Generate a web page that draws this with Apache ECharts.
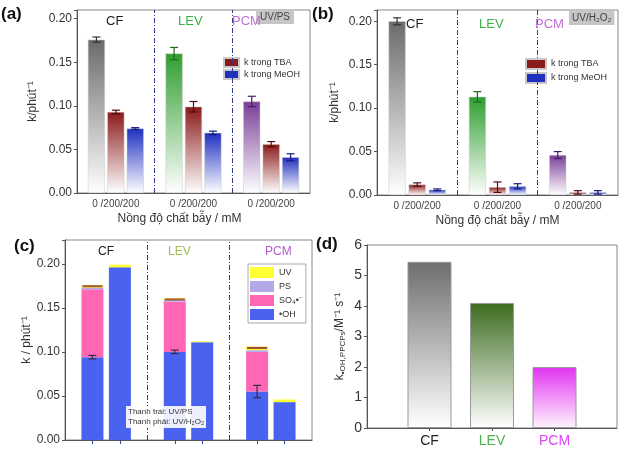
<!DOCTYPE html>
<html><head><meta charset="utf-8">
<script src="https://cdn.jsdelivr.net/npm/echarts@6/dist/echarts.min.js"></script>
<style>html,body{margin:0;padding:0;background:#fff}#c{width:624px;height:450px}</style>
</head><body><div id="c"></div>
<script>
// ---------- data ----------
const compounds = ['CF', 'LEV', 'PCM'];
const trapTickLabel = '0 /200/200';
// (a) UV/PS : k (phút^-1) without trap / with TBA / with MeOH
const kNoTrapA = [0.176, 0.160, 0.105];
const kTBA_A   = [0.093, 0.099, 0.056];
const kMeOH_A  = [0.074, 0.069, 0.041];
const errNoTrapA = [0.003, 0.007, 0.006];
const errTBA_A   = [0.002, 0.006, 0.003];
const errMeOH_A  = [0.001, 0.002, 0.004];
// (b) UV/H2O2
const kNoTrapB = [0.200, 0.113, 0.046];
const kTBA_B   = [0.012, 0.009, 0.003];
const kMeOH_B  = [0.006, 0.010, 0.003];
const errNoTrapB = [0.004, 0.006, 0.004];
const errTBA_B   = [0.002, 0.006, 0.002];
const errMeOH_B  = [0.001, 0.003, 0.002];
// (c) contributions (left bar UV/PS, right bar UV/H2O2)
const ohPS   = [0.094, 0.100, 0.055];
const so4PS  = [0.077, 0.057, 0.045];
const psPS   = [0.002, 0.002, 0.002];
const uvPS   = [0.003, 0.002, 0.004];
const errOhPS = [0.002, 0.002, 0.007];
const ohH2O2 = [0.196, 0.111, 0.043];
const uvH2O2 = [0.003, 0.001, 0.003];
// (d) k_OH,PPCPs (M^-1 s^-1, x10^9)
const kOH_PPCP = [5.45, 4.10, 2.00];

// ---------- styles ----------
const FONT = 'Liberation Sans, Arial, sans-serif';
const compTopA = ['#6b6b6b', '#2f9e2f', '#7a3e98'];
const compTopD = ['#6e6e6e', '#3d6b1f', '#e033f0'];
const compErr = ['#333333', '#1a6a1a', '#4a1a6a'];
const tbaTop = '#8b1a1a', meohTop = '#1f2fc0';
const labelCol = ['#222222', '#3cb043', '#c070d8'];
function grad(top, bottom) {
  return new echarts.graphic.LinearGradient(0, 0, 0, 1, [
    {offset: 0, color: top}, {offset: 1, color: bottom || '#ffffff'}]);
}

// ---------- category layouts ----------
const catsAB = [];
for (let g = 0; g < 3; g++) { catsAB.push('s' + g); ['0', 'TBA', 'MeOH'].forEach(t => catsAB.push(compounds[g] + '-' + t)); }
catsAB.push('s3');
const catsC = [];
for (let g = 0; g < 3; g++) { catsC.push('s' + g); catsC.push(compounds[g] + '-PS'); catsC.push(compounds[g] + '-H2O2'); }
catsC.push('s3');
const catsD = ['e0'].concat(compounds, ['e1']);

function slotAB(arr, j, colorFn) {
  const out = catsAB.map(() => '-');
  arr.forEach((v, g) => { out[1 + g * 4 + j] = {value: v, itemStyle: {color: colorFn(g)}}; });
  return out;
}
function errAB(vals, errs, j, colFn) {
  return vals.map((v, g) => ({value: [1 + g * 4 + j, v, errs[g]], itemStyle: {color: colFn(g)}}));
}
function slotC(arr, j, colorFn) {
  const out = catsC.map(() => '-');
  arr.forEach((v, g) => { out[1 + g * 3 + j] = colorFn ? {value: v, itemStyle: {color: colorFn(g)}} : v; });
  return out;
}

function errItem(params, api) {
  const x = api.value(0), v = api.value(1), e = api.value(2);
  const p1 = api.coord([x, v + e]), p2 = api.coord([x, Math.max(0, v - e)]);
  const c = api.visual('color');
  const w = params.seriesName === 'errTop' ? 10 : 4;
  const st = {stroke: c, lineWidth: 1.2};
  return {type: 'group', children: [
    {type: 'line', shape: {x1: p1[0], y1: p1[1], x2: p2[0], y2: p2[1]}, style: st},
    {type: 'line', shape: {x1: p1[0] - w, y1: p1[1], x2: p1[0] + w, y2: p1[1]}, style: st},
    {type: 'line', shape: {x1: p2[0] - w, y1: p2[1], x2: p2[0] + w, y2: p2[1]}, style: st}
  ]};
}

function yFmt(v) { const r = Math.round(v * 20); return Math.abs(v * 20 - r) < 1e-6 ? v.toFixed(2) : ''; }
const dividerLine = {
  silent: true, symbol: 'none', label: {show: false},
  lineStyle: {color: '#2e3a8c', type: [5, 2, 1, 2], width: 1},
};

function yAxisK(grid, max, name, gap) {
  return {
    gridIndex: grid, type: 'value', min: 0, max: max, interval: 0.05,
    axisLine: {show: true, lineStyle: {color: '#555'}},
    axisTick: {show: true, length: 3, lineStyle: {color: '#555'}},
    splitLine: {show: false},
    axisLabel: {formatter: yFmt, fontSize: 12, color: '#333', margin: 5, fontFamily: FONT},
    name: name, nameLocation: 'middle', nameGap: gap,
    nameTextStyle: {fontSize: 12, color: '#333', fontFamily: FONT}
  };
}
function xAxisAB(grid, namePad) {
  return {
    gridIndex: grid, type: 'category', data: catsAB, boundaryGap: false,
    axisLine: {lineStyle: {color: '#555'}}, axisTick: {show: false},
    axisLabel: {interval: 0, formatter: (v, i) => (i % 4 === 2 ? trapTickLabel : ''), fontSize: 10, color: '#444', margin: 6, fontFamily: FONT},
    name: 'Nồng độ chất bẫy / mM', nameLocation: 'middle', nameGap: 20,
    nameTextStyle: {fontSize: 12, color: '#333', padding: namePad, fontFamily: FONT}
  };
}

function panelAB(idx, kNo, kT, kM, eNo, eT, eM) {
  return [
    {type: 'bar', name: 'k', xAxisIndex: idx, yAxisIndex: idx, barWidth: 17, barGap: '-100%',
     itemStyle: {borderColor: '#c8c8c8', borderWidth: 0.5},
     data: slotAB(kNo, 0, g => grad(compTopA[g])),
     markLine: Object.assign({data: [{xAxis: 's1'}, {xAxis: 's2'}]}, dividerLine)},
    {type: 'bar', name: 'k trong TBA', xAxisIndex: idx, yAxisIndex: idx, barWidth: 17, barGap: '-100%',
     itemStyle: {borderColor: '#c8c8c8', borderWidth: 0.5},
     data: slotAB(kT, 1, () => grad(tbaTop))},
    {type: 'bar', name: 'k trong MeOH', xAxisIndex: idx, yAxisIndex: idx, barWidth: 17, barGap: '-100%',
     itemStyle: {borderColor: '#c8c8c8', borderWidth: 0.5},
     data: slotAB(kM, 2, () => grad(meohTop))},
    {type: 'custom', name: 'err', xAxisIndex: idx, yAxisIndex: idx, renderItem: errItem, encode: {x: 0, y: 1}, z: 5,
     data: errAB(kNo, eNo, 0, g => compErr[g]).concat(errAB(kT, eT, 1, () => '#5a0a0a'), errAB(kM, eM, 2, () => '#101a80'))}
  ];
}

const chart = echarts.init(document.getElementById('c'));
const titleBase = {textStyle: {fontFamily: FONT, fontWeight: 'normal'}};
function T(text, left, top, size, color, extra) {
  return Object.assign({text: text, left: left, top: top, padding: 0,
    textStyle: Object.assign({fontFamily: FONT, fontSize: size, color: color, fontWeight: 'normal'}, (extra && extra.ts) || {})},
    (extra && extra.box) || {});
}

chart.setOption({
  animation: false,
  textStyle: {fontFamily: FONT},
  title: [
    T('(a)', 1, 6, 17, '#111', {ts: {fontWeight: 'bold'}}),
    T('(b)', 312, 6, 17, '#111', {ts: {fontWeight: 'bold'}}),
    T('(c)', 14, 238, 17, '#111', {ts: {fontWeight: 'bold'}}),
    T('(d)', 316, 236, 17, '#111', {ts: {fontWeight: 'bold'}}),
    T('CF', 106, 15, 13, labelCol[0]), T('LEV', 178, 15, 13, labelCol[1]), T('PCM', 232, 15, 13, labelCol[2]),
    T('UV/PS', 256, 10, 10, '#444', {box: {backgroundColor: '#c6c6c6', padding: [2, 4]}}),
    T('CF', 406, 18, 13, labelCol[0]), T('LEV', 479, 18, 13, labelCol[1]), T('PCM', 535, 18, 13, labelCol[2]),
    T('UV/H₂O₂', 569, 11, 10, '#444', {box: {backgroundColor: '#c6c6c6', padding: [2, 3]}}),
    T('CF', 98, 246, 12, '#222'), T('LEV', 168, 246, 12, '#a0c050'), T('PCM', 265, 246, 12, '#b060c8'),
    T('Thanh trái: UV/PS\nThanh phải: UV/H₂O₂', 126, 406, 8, '#333',
      {ts: {lineHeight: 10}, box: {backgroundColor: 'rgba(255,255,255,0.9)', padding: [1, 2]}})
  ],
  legend: [
    {left: 218, top: 52, orient: 'vertical', icon: 'rect', itemWidth: 15, itemHeight: 9, itemGap: 1, selectedMode: false,
     textStyle: {fontSize: 9, color: '#333'},
     data: [{name: 'k trong TBA', itemStyle: {color: tbaTop}}, {name: 'k trong MeOH', itemStyle: {color: meohTop}}]},
    {left: 520, top: 53, orient: 'vertical', icon: 'rect', itemWidth: 20, itemHeight: 10, itemGap: 2, selectedMode: false,
     textStyle: {fontSize: 9, color: '#333'},
     data: [{name: 'k trong TBA', itemStyle: {color: tbaTop}}, {name: 'k trong MeOH', itemStyle: {color: meohTop}}]},
    {left: 248, top: 264, orient: 'vertical', icon: 'rect', itemWidth: 24, itemHeight: 11, itemGap: 3, selectedMode: false,
     padding: [3, 4, 3, 2], borderColor: '#aaa', borderWidth: 1,
     textStyle: {fontSize: 9, color: '#333'},
     data: ['UV', 'PS', 'SO₄•⁻', '•OH']}
  ],
  grid: [
    {left: 77, top: 10, right: 314, bottom: 257, show: true, borderColor: '#888', borderWidth: 1},
    {left: 377, top: 10, right: 6, bottom: 255, show: true, borderColor: '#888', borderWidth: 1},
    {left: 65, top: 240, right: 312, bottom: 10, show: true, borderColor: '#888', borderWidth: 1},
    {left: 367, top: 245, right: 7, bottom: 22, show: true, borderColor: '#888', borderWidth: 1}
  ],
  xAxis: [
    xAxisAB(0, [0, 28, 0, 0]),
    xAxisAB(1, [0, 0, 0, 0]),
    {gridIndex: 2, type: 'category', data: catsC, boundaryGap: false,
     axisLine: {lineStyle: {color: '#555'}},
     axisTick: {show: true, length: 4, interval: (i) => i % 3 !== 0, lineStyle: {color: '#3344aa'}},
     axisLabel: {show: false}},
    {gridIndex: 3, type: 'category', data: catsD, boundaryGap: false,
     axisLine: {lineStyle: {color: '#555'}},
     axisTick: {show: true, length: 3, interval: (i) => i > 0 && i < 4, lineStyle: {color: '#555'}},
     axisLabel: {interval: 0, margin: 6, fontSize: 14,
       formatter: (v) => { const g = compounds.indexOf(v); return g < 0 ? '' : '{c' + g + '|' + v + '}'; },
       rich: {c0: {fontSize: 14, color: '#222'}, c1: {fontSize: 14, color: '#4caf50'}, c2: {fontSize: 14, color: '#e040fb'}}}}
  ],
  yAxis: [
    yAxisK(0, 0.21, 'k/phút⁻¹', 38),
    yAxisK(1, 0.213, 'k/phút⁻¹', 36),
    yAxisK(2, 0.227, 'k / phút⁻¹', 31),
    {gridIndex: 3, type: 'value', min: 0, max: 6, interval: 1,
     axisLine: {show: true, lineStyle: {color: '#555'}},
     axisTick: {show: true, length: 3, lineStyle: {color: '#555'}},
     splitLine: {show: false},
     axisLabel: {fontSize: 14, color: '#333', margin: 5},
     name: 'k{s|•OH,PPCPs}/M⁻¹ s⁻¹', nameLocation: 'middle', nameGap: 20,
     nameTextStyle: {fontSize: 12, color: '#333', rich: {s: {fontSize: 8, color: '#333', verticalAlign: 'bottom', padding: [6, 0, 0, 0]}}}}
  ],
  series: [].concat(
    panelAB(0, kNoTrapA, kTBA_A, kMeOH_A, errNoTrapA, errTBA_A, errMeOH_A),
    panelAB(1, kNoTrapB, kTBA_B, kMeOH_B, errNoTrapB, errTBA_B, errMeOH_B),
    [
      {type: 'bar', name: '•OH', xAxisIndex: 2, yAxisIndex: 2, stack: 'c', barWidth: 22, itemStyle: {color: '#4a62f0'},
       data: catsC.map((c, i) => { const g = Math.floor(i / 3); const j = i % 3; return j === 1 ? ohPS[g] : j === 2 ? ohH2O2[g] : '-'; }),
       markLine: Object.assign({data: [{xAxis: 's1'}, {xAxis: 's2'}]}, dividerLine)},
      {type: 'bar', name: 'SO₄•⁻', xAxisIndex: 2, yAxisIndex: 2, stack: 'c', barWidth: 22, itemStyle: {color: '#ff66b3'},
       data: slotC(so4PS, 0)},
      {type: 'bar', name: 'PS', xAxisIndex: 2, yAxisIndex: 2, stack: 'c', barWidth: 22, itemStyle: {color: '#b3a9e6'},
       data: slotC(psPS, 0)},
      {type: 'bar', name: 'UV', xAxisIndex: 2, yAxisIndex: 2, stack: 'c', barWidth: 22, itemStyle: {color: '#ffff33'},
       data: catsC.map((c, i) => { const g = Math.floor(i / 3); const j = i % 3; return j === 1 ? uvPS[g] : j === 2 ? uvH2O2[g] : '-'; })},
      {type: 'custom', name: 'errOH', xAxisIndex: 2, yAxisIndex: 2, renderItem: errItem, encode: {x: 0, y: 1}, z: 5,
       itemStyle: {color: '#3a2a50'},
       data: ohPS.map((v, g) => [1 + g * 3, v, errOhPS[g]])},
      {type: 'custom', name: 'errTop', xAxisIndex: 2, yAxisIndex: 2, renderItem: errItem, encode: {x: 0, y: 1}, z: 5,
       itemStyle: {color: '#a0503a'},
       data: ohPS.map((v, g) => [1 + g * 3, v + so4PS[g] + psPS[g] + uvPS[g] - 0.0015, 0.0005])},
      {type: 'bar', name: 'kOH', xAxisIndex: 3, yAxisIndex: 3, barWidth: 44,
       itemStyle: {borderColor: '#9a9a9a', borderWidth: 1},
       data: catsD.map(c => { const g = compounds.indexOf(c); return g < 0 ? '-' :
         {value: kOH_PPCP[g], itemStyle: {color: grad(compTopD[g], g === 2 ? '#fff4ff' : '#ffffff')}}; })}
    ]
  )
});
</script>
</body></html>
